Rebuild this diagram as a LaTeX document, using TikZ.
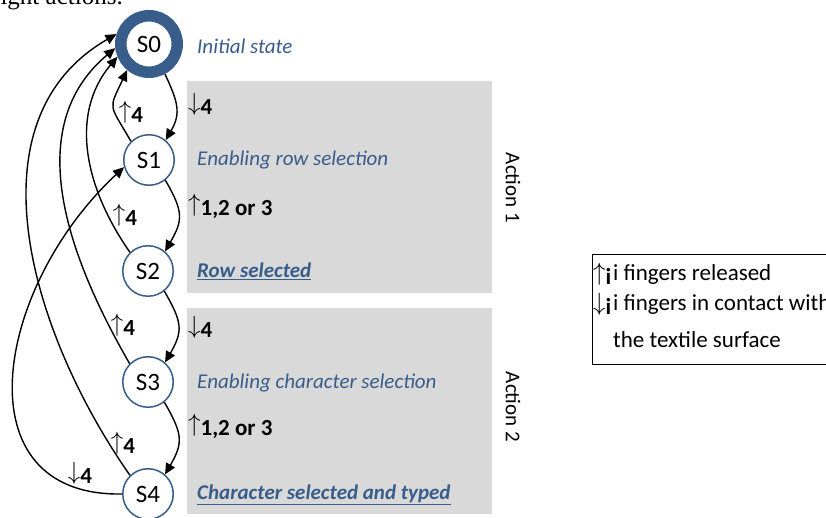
\documentclass[tikz,border=0pt]{standalone}
\usepackage{fontspec}
\setmainfont{Carlito}
\newfontfamily\serifcut{Liberation Serif}
\usetikzlibrary{arrows.meta}
\definecolor{stblue}{RGB}{56,93,138}
\definecolor{boxgray}{RGB}{217,217,217}
\newcommand{\UpA}{\raisebox{0.17em}{$\uparrow$}}
\newcommand{\DnA}{\raisebox{0.17em}{$\downarrow$}}
\begin{document}
\begin{tikzpicture}[x=1pt,y=1pt,
  state/.style={circle,draw=stblue,line width=1.5pt,fill=white,minimum size=50.5pt,inner sep=0pt,font=\fontsize{25}{25}\selectfont},
  init/.style={circle,draw=stblue,line width=11.5pt,fill=white,minimum size=56.5pt,inner sep=0pt,font=\fontsize{25}{25}\selectfont},
  tr/.style={line width=1.4pt,-{Triangle[length=11pt,width=10pt]}},
  lbl/.style={font=\fontsize{23}{23}\selectfont,inner sep=0pt},
  desc/.style={font=\fontsize{21}{21}\selectfont\itshape,text=stblue,anchor=west,inner sep=0pt},
  descb/.style={font=\fontsize{21}{21}\selectfont\bfseries\itshape,text=stblue,anchor=west,inner sep=0pt},
  leg/.style={font=\fontsize{23}{23}\selectfont,anchor=west,inner sep=0pt},
  act/.style={font=\fontsize{21}{21}\selectfont,rotate=-90,inner sep=0pt}
]
\clip (0,0) rectangle (826,518);
\fill[white] (0,0) rectangle (826,518);
\node[anchor=base west,inner sep=0pt,font=\serifcut\fontsize{25}{25}\selectfont] (top) at (-8,513) {right actions.};
% action blocks
\fill[boxgray] (187,225) rectangle (492,437);
\fill[boxgray] (187,4) rectangle (492,210);
% states
\node[init] (S0) at (149,474) {S0};
\node[state] (S1) at (149,358) {S1};
\node[state] (S2) at (148,247) {S2};
\node[state] (S3) at (148,136) {S3};
\node[state] (S4) at (148,24) {S4};
% forward transitions
\draw[tr] (S0.-62) to[out=-65,in=60,looseness=1.2] (S1.50);
\draw[tr] (S1.-51) to[out=-60,in=60,looseness=1.3] (S2.49);
\draw[tr] (S2.-51) to[out=-60,in=60,looseness=1.3] (S3.49);
\draw[tr] (S3.-51) to[out=-60,in=60,looseness=1.3] (S4.49);
% back transitions
\draw[tr] (S1.134) to[out=120,in=245,looseness=1.6] (S0.230);
\draw[tr] (S2.134) to[out=125,in=230] (S0.202);
\draw[tr] (S3.135) to[out=120,in=220] (S0.187);
\draw[tr] (S4.134) to[out=125,in=210] (S0.163);
\draw[tr] (S4.west) to[out=181,in=223,out distance=162pt,in distance=178pt] (S1.196);
% transition labels
\node[lbl] (l10) at (131,406) {\UpA\textbf{4}};
\node[lbl] (l20) at (125,303) {\UpA\textbf{4}};
\node[lbl] (l30) at (123,193) {\UpA\textbf{4}};
\node[lbl] (l40) at (123,75) {\UpA\textbf{4}};
\node[lbl] (l41) at (80,45) {\DnA\textbf{4}};
\node[lbl,anchor=west] (l01) at (188,414) {\DnA\textbf{4}};
\node[lbl,anchor=west] (l12) at (188,312) {\UpA\textbf{1,2 or 3}};
\node[lbl,anchor=west] (l23) at (188,191) {\DnA\textbf{4}};
\node[lbl,anchor=west] (l34) at (188,92) {\UpA\textbf{1,2 or 3}};
% descriptions
\node[desc] (d0) at (197,472) {Initial state};
\node[desc] (d1) at (197,358) {Enabling row selection};
\node[descb] (d2) at (197,247) {\underline{Row selected}};
\node[desc] (d3) at (197,135) {Enabling character selection};
\node[descb] (d4) at (197,23) {\underline{Character selected and typed}};
% actions
\node[act] (a1) at (513,330) {Action 1};
\node[act] (a2) at (513,111) {Action 2};
% legend
\draw[line width=1pt] (592,153) rectangle (840,263);
\node[leg] (k1) at (593,244) {\UpA\textbf{i}};
\node[leg] (t1) at (613,244) {i fingers released};
\node[leg] (k2) at (593,214) {\DnA\textbf{i}};
\node[leg] (t2) at (613,214) {i fingers in contact with};
\node[leg] (t3) at (613,178) {the textile surface};
\end{tikzpicture}
\end{document}
